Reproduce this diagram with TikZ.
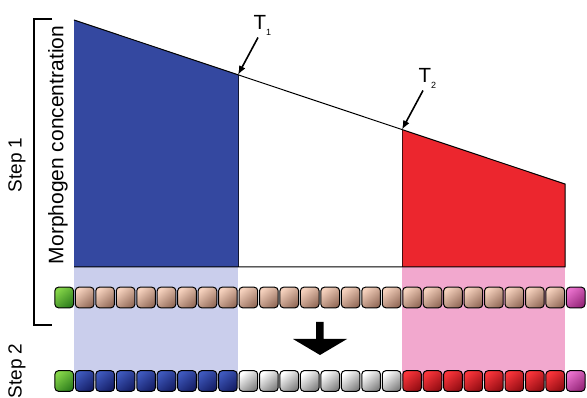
\documentclass[tikz,border=0pt]{standalone}
\usepackage{fontspec}
\setmainfont{Liberation Sans}
\usetikzlibrary{arrows.meta}
\definecolor{mblue}{RGB}{52,72,160}
\definecolor{mred}{RGB}{236,38,46}
\definecolor{paleblue}{RGB}{202,206,236}
\definecolor{palepink}{RGB}{242,168,206}
\definecolor{peachL}{RGB}{244,208,188}
\definecolor{peachD}{RGB}{150,110,92}
\definecolor{blueL}{RGB}{62,88,188}
\definecolor{blueD}{RGB}{22,32,105}
\definecolor{redL}{RGB}{248,52,58}
\definecolor{redD}{RGB}{150,14,20}
\definecolor{whiteL}{RGB}{255,255,255}
\definecolor{whiteD}{RGB}{130,130,130}
\definecolor{greenL}{RGB}{132,212,72}
\definecolor{greenD}{RGB}{48,128,30}
\definecolor{pinkL}{RGB}{232,112,204}
\definecolor{pinkD}{RGB}{150,40,122}
\tikzset{
  cell/.style={draw=black, line width=1pt, rounded corners=3.5pt,
    minimum width=18.6pt, minimum height=20.6pt, inner sep=0pt},
  shadecell/.style 2 args={cell, top color=#1, bottom color=#2, shading angle=40},
  lbl/.style={font=\fontsize{19}{22}\selectfont, inner sep=0pt},
  tlbl/.style={font=\fontsize{20.5}{22}\selectfont, inner sep=0pt, anchor=base west},
  pointer/.style={line width=1.6pt, -{Latex[length=9pt,width=7pt]}},
}
\newcommand{\tsub}[1]{\raisebox{-6pt}{\fontsize{9}{10}\selectfont #1}}
\begin{document}
\begin{tikzpicture}[x=1pt,y=-1pt]
\useasboundingbox (0,0) rectangle (587,398);

% key points of the gradient profile
\coordinate (g0) at (74,20);
\coordinate (t1) at (238,74.8);
\coordinate (t2) at (402,129.6);
\coordinate (gend) at (565,184);
\coordinate (b0) at (74,267);
\coordinate (b1) at (238,267);
\coordinate (b2) at (402,267);
\coordinate (bend) at (565,267);

% pale bands projecting the domains onto the cell rows
\fill[paleblue] (74,267) rectangle (238,381);
\fill[palepink] (402,267) rectangle (565,381);

% filled domains under the curve
\fill[mblue] (g0) -- (t1) -- (b1) -- (b0) -- cycle;
\fill[mred] (t2) -- (gend) -- (bend) -- (b2) -- cycle;
\draw[line width=0.6pt, black!70!mblue] (t1) -- (b1);
\draw[line width=0.6pt, black!70!mred] (t2) -- (b2);
\draw[line width=1pt, line join=miter] (g0) -- (gend) -- (bend) -- (b0);

% threshold labels and their pointers
\node[tlbl] (T1) at (253.5,30) {T\tsub{1}};
\node[tlbl] (T2) at (418.5,83) {T\tsub{2}};
\coordinate (p1) at (258,37.5);
\coordinate (p2) at (423,90.5);
\draw[pointer] (p1) -- (t1);
\draw[pointer] (p2) -- (t2);

% axis and step labels
\node[lbl, rotate=90, font=\fontsize{21}{24}\selectfont] (ylab) at (58,145) {Morphogen concentration};
\node[lbl, rotate=90] (step1) at (17,165) {Step 1};
\node[lbl, rotate=90] (step2) at (17,371) {Step 2};
\draw[line width=1.2pt] (52,19) -- (34,19) -- (34,325) -- (52,325);

% row of cells, step 1
\node[shadecell={greenL}{greenD}] (a0) at (64.2,297.5) {};
\foreach \i in {1,...,24}
  \node[shadecell={peachL}{peachD}] (a\i) at ({54+20.46*(\i+0.5)},297.5) {};
\node[shadecell={pinkL}{pinkD}] (a25) at ({54+20.46*25.5},297.5) {};

% row of cells, step 2
\node[shadecell={greenL}{greenD}] (c0) at (64.2,381) {};
\foreach \i in {1,...,8}
  \node[shadecell={blueL}{blueD}] (c\i) at ({54+20.46*(\i+0.5)},381) {};
\foreach \i in {9,...,16}
  \node[shadecell={whiteL}{whiteD}] (c\i) at ({54+20.46*(\i+0.5)},381) {};
\foreach \i in {17,...,24}
  \node[shadecell={redL}{redD}] (c\i) at ({54+20.46*(\i+0.5)},381) {};
\node[shadecell={pinkL}{pinkD}] (c25) at ({54+20.46*25.5},381) {};

% block arrow between the rows
\fill (316,322) -- (323.5,322) -- (323.5,339) -- (347,339) -- (320,355)
  -- (293,339) -- (316,339) -- cycle;
\end{tikzpicture}
\end{document}
